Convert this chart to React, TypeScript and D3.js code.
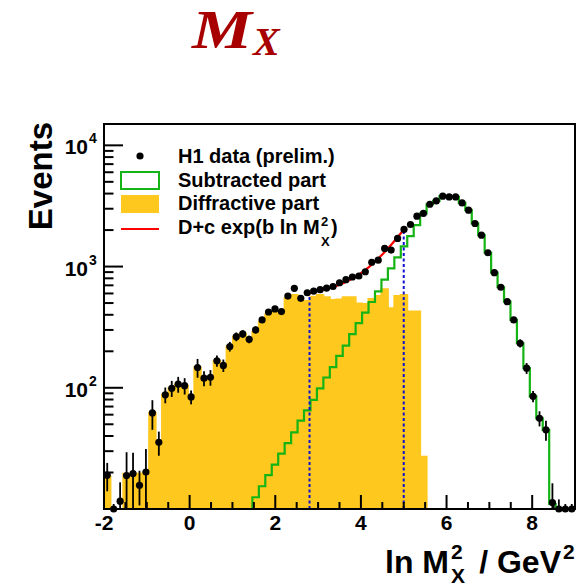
import React from "react";
import * as d3 from "d3";

// ---------- data ----------
const xDomain = [-2, 9];
const yDomain = [10, 15000];

// H1 data, 73 bins of ln M_X^2 from -2 to 9
const dataCounts = [
  19, 8, 11.6, 18.9, 19.6, 15.7, 20.2, 62, 35.5, 87.5,
  99, 107, 104, 84, 147, 120, 122, 167, 153, 219,
  264, 278, 251, 300, 363, 422, 447, 425, 571, 661,
  547, 608, 628, 645, 665, 685, 735, 780, 820, 836,
  906, 1085, 1130, 1412, 1368, 1706, 2024, 2224, 2606, 2743,
  3266, 3480, 3805, 3756, 3756, 3350, 2917, 2267, 1815, 1300,
  890, 675, 513, 363, 233, 145, 85, 56, 45, 11.3,
  8, 8, 8,
];
const dataErrors = [
  5, 3, 5, 10.5, 9.5, 5, 11, 17, 8, 13,
  15, 16, 16, 11, 26, 17, 18, 18, 18, 20,
  22, 20, 18, 20, 20, 20, 20, 22, 24, 26,
  24, 25, 25, 26, 26, 27, 28, 28, 29, 29,
  30, 33, 34, 38, 37, 41, 45, 47, 51, 52,
  57, 59, 62, 61, 61, 58, 54, 48, 43, 36,
  30, 26, 23, 20, 18, 15, 9, 8, 8.5, 5,
  4, 3, 3,
];
// Diffractive part (yellow, filled)
const diffractive = [
  18.5, 0, 0, 19.5, 19.5, 19.5, 20, 62, 35.5, 87.5,
  99, 107, 104, 84, 147, 120, 122, 167, 153, 219,
  264, 278, 251, 288, 348, 403, 424, 415, 547, 582,
  513, 520, 564, 582, 557, 530, 535, 557, 557, 495,
  490, 540, 571, 649, 453, 571, 582, 425, 425, 27,
  0, 0, 0, 0, 0, 0, 0, 0, 0, 0,
  0, 0, 0, 0, 0, 0, 0, 0, 0, 0,
  0, 0, 0,
];
// Subtracted part (green outline)
const subtracted = [
  0, 0, 0, 0, 0, 0, 0, 0, 0, 0,
  0, 0, 0, 0, 0, 0, 0, 0, 0, 0,
  0, 0, 0, 12.5, 15.4, 19, 23.2, 28.6, 35, 42.9,
  53.5, 65, 79.6, 99, 121.6, 148, 183, 223, 277, 341,
  417, 510, 625, 780, 965, 1191, 1465, 1782, 2197, 2743,
  3266, 3480, 3805, 3756, 3756, 3350, 2917, 2267, 1815, 1300,
  890, 675, 513, 363, 233, 145, 85, 56, 45, 11,
  0, 0, 0,
];
// Fit curve D + c exp(b ln M_X^2)
const fitX = [2.8, 3.0, 3.4, 3.8, 4.2, 4.6, 5.0];
const fitY = [605, 628, 685, 795, 1000, 1370, 2010];
// Fit range boundaries (blue dotted lines)
const cutX = [2.8, 5.0];

const xMajorTicks = [-2, 0, 2, 4, 6, 8];
const yMajorTicks = [100, 1000, 10000];
const yMajorExp = ["2", "3", "4"];
const legendLabels = ["H1 data (prelim.)", "Subtracted part", "Diffractive part", "D+c exp(b ln M"];

// ---------- layout ----------
const W = 588;
const H = 586;
const L = 104, R = 575, T = 124, B = 509;
const FONT = "'Liberation Sans', Arial, Helvetica, sans-serif";
const SERIF = "'Liberation Serif', 'Times New Roman', serif";
const YELLOW = "#ffc81e";
const GREEN = "#14b414";

export default function App() {
  const x = d3.scaleLinear().domain(xDomain).range([L, R]);
  const y = d3.scaleLog().domain(yDomain).range([B, T]).clamp(true);
  const yc = (v: number) => y(Math.max(v, yDomain[0]));

  const nb = dataCounts.length;
  const bw = (xDomain[1] - xDomain[0]) / nb;
  const centers = dataCounts.map((_, i) => xDomain[0] + (i + 0.5) * bw);

  const stepPts = (vals: number[]) => {
    const p: [number, number][] = [];
    vals.forEach((v, i) => {
      const x0 = xDomain[0] + i * bw;
      p.push([x0, v], [x0 + bw, v]);
    });
    return p;
  };

  const line = d3.line<[number, number]>().x((d) => x(d[0])).y((d) => yc(d[1]));
  const area = d3
    .area<[number, number]>()
    .x((d) => x(d[0]))
    .y0(B)
    .y1((d) => yc(d[1]));

  const fitLine = d3
    .line<number>()
    .x((_, i) => x(fitX[i]))
    .y((d) => yc(d))
    .curve(d3.curveMonotoneX);

  const yellowPath = area(stepPts(diffractive)) || "";
  const yellowOutline = line(stepPts(diffractive)) || "";
  const greenPath = line(stepPts(subtracted)) || "";

  const xMinor = d3.range(xDomain[0], xDomain[1] + 0.001, 0.5).filter(
    (t) => !xMajorTicks.some((m) => Math.abs(m - t) < 1e-6)
  );
  const yMinor: number[] = [];
  for (let dec = 10; dec < yDomain[1]; dec *= 10) {
    for (let k = 2; k <= 9; k++) {
      const v = dec * k;
      if (v < yDomain[1]) yMinor.push(v);
    }
  }

  const cutTop = [fitY[0], fitY[fitY.length - 1]];

  return (
    <svg
      width={W}
      height={H}
      style={{ position: "absolute", left: 0, top: 0, background: "#fff" }}
      fontFamily={FONT}
    >
      <defs>
        <clipPath id="frame">
          <rect x={L} y={T} width={R - L} height={B - T} />
        </clipPath>
      </defs>
      <rect x={0} y={0} width={W} height={H} fill="#fff" />

      {/* title */}
      <text
        x={192}
        y={48}
        fontFamily={SERIF}
        fontStyle="italic"
        fontWeight="bold"
        fontSize={55}
        fill="#a80000"
        textLength={60}
        lengthAdjust="spacingAndGlyphs"
      >
        M
      </text>
      <text
        x={253}
        y={55}
        fontFamily={SERIF}
        fontStyle="italic"
        fontWeight="bold"
        fontSize={40}
        fill="#a80000"
      >
        X
      </text>

      <g clipPath="url(#frame)">
        <path d={yellowPath} fill={YELLOW} />
        <path d={yellowOutline} fill="none" stroke={YELLOW} strokeWidth={2} />
        <path d={greenPath} fill="none" stroke={GREEN} strokeWidth={2.2} />
        {cutX.map((c, i) => (
          <line
            key={i}
            x1={x(c)}
            x2={x(c)}
            y1={B}
            y2={yc(cutTop[i])}
            stroke="#1010d0"
            strokeWidth={2}
            strokeDasharray="3,2.5"
          />
        ))}
        <path d={fitLine(fitY) || ""} fill="none" stroke="#ff0000" strokeWidth={2.2} />
      </g>

      {/* data points */}
      <g>
        {dataCounts.map((v, i) => (
          <line
            key={"e" + i}
            x1={x(centers[i])}
            x2={x(centers[i])}
            y1={yc(v - dataErrors[i])}
            y2={yc(v + dataErrors[i])}
            stroke="#000"
            strokeWidth={1.8}
          />
        ))}
        {dataCounts.map((v, i) => (
          <circle key={"p" + i} cx={x(centers[i])} cy={yc(v)} r={3.6} fill="#000" />
        ))}
      </g>

      {/* frame */}
      <rect x={L} y={T} width={R - L} height={B - T} fill="none" stroke="#000" strokeWidth={2} />

      {/* x ticks */}
      {xMajorTicks.map((t) => (
        <g key={"xm" + t}>
          <line x1={x(t)} x2={x(t)} y1={B} y2={B - 14} stroke="#000" strokeWidth={2} />
          <text x={x(t)} y={530} textAnchor="middle" fontSize={21} fontWeight="bold">
            {t}
          </text>
        </g>
      ))}
      {xMinor.map((t) => (
        <line key={"xn" + t} x1={x(t)} x2={x(t)} y1={B} y2={B - 7} stroke="#000" strokeWidth={2} />
      ))}

      {/* y ticks */}
      {yMajorTicks.map((t, i) => (
        <g key={"ym" + t}>
          <line x1={L} x2={L + 19} y1={y(t)} y2={y(t)} stroke="#000" strokeWidth={2} />
          <text x={88} y={y(t) + 9} textAnchor="end" fontSize={21} fontWeight="bold">
            10
          </text>
          <text x={89} y={y(t) - 2} fontSize={14} fontWeight="bold">
            {yMajorExp[i]}
          </text>
        </g>
      ))}
      {yMinor.map((t) => (
        <line key={"yn" + t} x1={L} x2={L + 9.5} y1={y(t)} y2={y(t)} stroke="#000" strokeWidth={2} />
      ))}

      {/* axis titles */}
      <text
        transform="translate(52,122) rotate(-90)"
        textAnchor="end"
        fontSize={33}
        fontWeight="bold"
      >
        Events
      </text>
      <text x={385} y={573} fontSize={32} fontWeight="bold">
        ln M
      </text>
      <text x={451} y={559} fontSize={21} fontWeight="bold">
        2
      </text>
      <text x={451} y={583} fontSize={21} fontWeight="bold">
        X
      </text>
      <text x={561} y={573} textAnchor="end" fontSize={32} fontWeight="bold">
        / GeV
      </text>
      <text x={563} y={559} fontSize={21} fontWeight="bold">
        2
      </text>

      {/* legend */}
      <circle cx={140} cy={156} r={3.6} fill="#000" />
      <rect x={121} y={172} width={38} height={17} fill="#fff" stroke={GREEN} strokeWidth={2} />
      <rect x={121} y={195} width={38} height={18} fill={YELLOW} />
      <line x1={121} x2={159} y1={229} y2={229} stroke="#ff0000" strokeWidth={2.2} />
      {legendLabels.map((s, i) => (
        <text key={s} x={178} y={163 + i * 23.7} fontSize={20} fontWeight="bold">
          {s}
        </text>
      ))}
      <text x={321} y={226} fontSize={13} fontWeight="bold">
        2
      </text>
      <text x={321} y={246} fontSize={13} fontWeight="bold">
        X
      </text>
      <text x={331} y={234} fontSize={20} fontWeight="bold">
        )
      </text>
    </svg>
  );
}
